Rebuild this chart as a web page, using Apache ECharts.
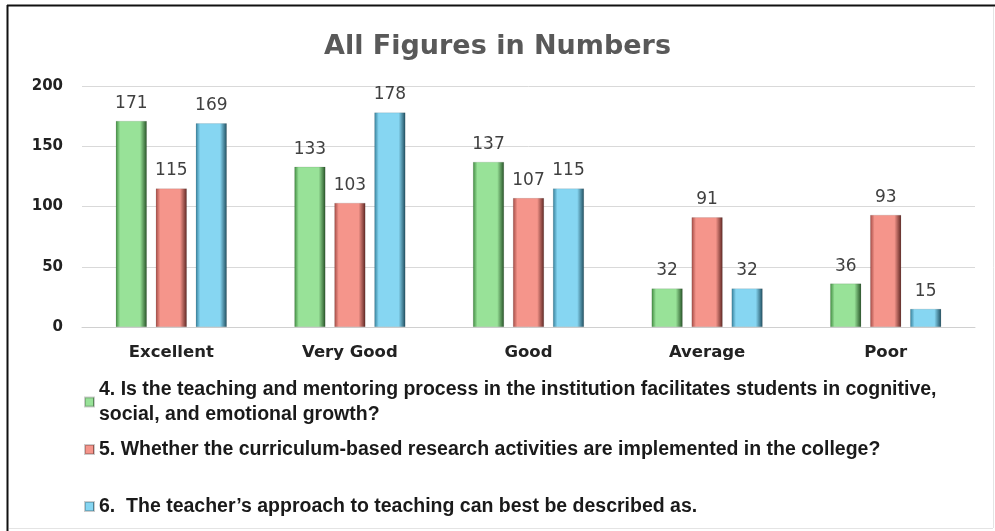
<!DOCTYPE html>
<html><head><meta charset="utf-8">
<script src="https://cdn.jsdelivr.net/npm/echarts@6/dist/echarts.min.js"></script>
<style>html,body{margin:0;padding:0;background:#fff}#c{width:995px;height:531px}</style>
</head><body><div id="c"></div>
<script>
const categories = ['Excellent', 'Very Good', 'Good', 'Average', 'Poor'];
const seriesNames = [
  '4. Is the teaching and mentoring process in the institution facilitates students in cognitive,\nsocial, and emotional growth?',
  '5. Whether the curriculum-based research activities are implemented in the college?',
  '6.  The teacher\u2019s approach to teaching can best be described as.'
];
const q4 = [171, 133, 137, 32, 36];
const q5 = [115, 103, 107, 91, 93];
const q6 = [169, 178, 115, 32, 15];
const yTicks = [0, 50, 100, 150, 200];

function grad(edgeL, mid, edgeR) {
  return new echarts.graphic.LinearGradient(0, 0, 1, 0, [
    {offset: 0, color: edgeL}, {offset: 0.14, color: mid}, {offset: 0.5, color: mid},
    {offset: 0.78, color: mid}, {offset: 1, color: edgeR}
  ]);
}
const colors = [
  {g: grad('#3f8a3f', '#98e298', '#265226'), solid: '#7fcf7f'},
  {g: grad('#a24a44', '#f5958b', '#5e2622'), solid: '#e8837a'},
  {g: grad('#347f9a', '#86d6f2', '#1f4d5e'), solid: '#6ec6e6'}
];
const data = [q4, q5, q6];
const chart = echarts.init(document.getElementById('c'));
const legendFont = {fontFamily: '"Liberation Sans", sans-serif', fontWeight: 'bold', fontSize: 19.5, color: '#1a1a1a', lineHeight: 25};
const legendTops = [377, 437, 494];
chart.setOption({
  animation: false,
  backgroundColor: '#fff',
  title: {text: 'All Figures in Numbers', left: 'center', top: 28,
    textStyle: {fontFamily: 'DejaVu Sans', fontSize: 27, fontWeight: 'bold', color: '#595959'}},
  grid: {left: 82, right: 20, top: 86, bottom: 204},
  xAxis: {type: 'category', data: categories,
    axisLine: {lineStyle: {color: '#d0d0d0', width: 1}}, axisTick: {show: false},
    axisLabel: {margin: 17, fontFamily: 'DejaVu Sans', fontWeight: 'bold', fontSize: 16.5, color: '#222'}},
  yAxis: {type: 'value', min: 0, max: 200, interval: 50,
    axisLabel: {margin: 19, fontFamily: 'DejaVu Sans', fontWeight: 'bold', fontSize: 15, color: '#222',
      formatter: v => yTicks.includes(v) ? String(v) : ''},
    splitLine: {lineStyle: {color: '#d9d9d9'}}, axisLine: {show: false}, axisTick: {show: false}},
  legend: seriesNames.map((n, i) => ({
    data: [n], left: 84, top: legendTops[i], orient: 'vertical', itemWidth: 9, itemHeight: 9,
    itemGap: 0, icon: 'rect', textStyle: legendFont, padding: 0, selectedMode: false
  })),
  series: seriesNames.map((n, i) => ({
    name: n, type: 'bar', data: data[i], barWidth: 31, barGap: '29%',
    color: colors[i].solid,
    itemStyle: {color: colors[i].g, borderColor: 'rgba(0,0,0,0.2)', borderWidth: 0.5},
    label: {show: true, position: 'top', distance: 9, fontFamily: 'DejaVu Sans', fontSize: 17, color: '#404040'}
  })),
  graphic: [
    {type: 'line', shape: {x1: 7, y1: 5.5, x2: 995, y2: 5.5}, style: {stroke: '#111', lineWidth: 2}},
    {type: 'line', shape: {x1: 7.5, y1: 5, x2: 7.5, y2: 531}, style: {stroke: '#111', lineWidth: 2}},
    {type: 'line', shape: {x1: 993.5, y1: 7, x2: 993.5, y2: 528}, style: {stroke: '#e4e4e4', lineWidth: 1}},
    {type: 'line', shape: {x1: 9, y1: 528.5, x2: 993, y2: 528.5}, style: {stroke: '#e4e4e4', lineWidth: 1}}
  ]
});
</script></body></html>
